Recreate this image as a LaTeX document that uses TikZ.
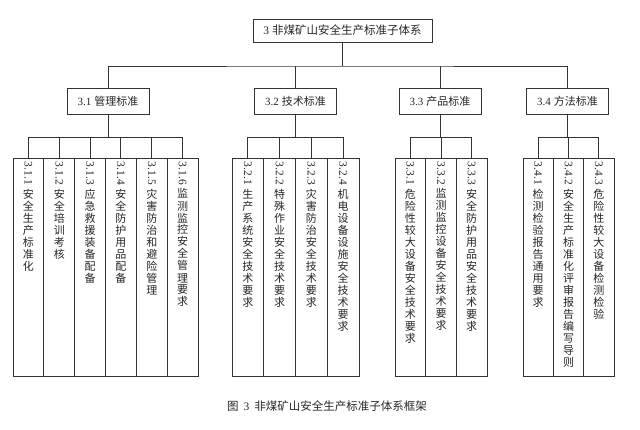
\documentclass[tikz,border=0pt]{standalone}
\usepackage{fontspec}
\setmainfont{Liberation Serif}
\newfontfamily\cjk{Noto Sans CJK SC}
\usepackage{graphicx}
\makeatletter
\def\vt@loop#1{\ifx#1\relax\expandafter\@gobble\else\expandafter\@firstofone\fi{\\#1\vt@loop}}
\newcommand\vt[2]{\rotatebox{-90}{\rmfamily\fontsize{11.5}{12}\selectfont #1\hspace{3pt}}\vt@loop#2\relax}
\makeatother
\begin{document}
\begin{tikzpicture}[x=1pt,y=-1pt,
  ln/.style={draw=black!80,line width=0.85pt},
  topbox/.style={ln,rectangle,inner sep=0pt,minimum width=179,minimum height=23,text=black!85,font=\cjk\fontsize{11.5}{13}\selectfont},
  midbox/.style={ln,rectangle,inner sep=0pt,minimum width=82,minimum height=26,text=black!85,font=\cjk\fontsize{11}{13}\selectfont},
  cbox/.style={ln,rectangle,inner sep=0pt,minimum height=218},
  ctext/.style={anchor=north,inner sep=0pt,align=center,yshift=-4pt,text=black!85,font=\cjk\fontsize{11}{12}\selectfont},
  captxt/.style={inner sep=0pt,text=black!85,font=\cjk\fontsize{11.5}{13}\selectfont}]
\useasboundingbox (0,0) rectangle (640,429);
% top
\node[topbox] (top) at (342.5,30.5) {{\rmfamily 3}\hspace{3pt}非煤矿山安全生产标准子体系};
% level 2
\node[midbox] (m1) at (108,101) {{\rmfamily 3.1}\hspace{3pt}管理标准};
\node[midbox] (m2) at (295.5,101) {{\rmfamily 3.2}\hspace{3pt}技术标准};
\node[midbox] (m3) at (440,101) {{\rmfamily 3.3}\hspace{3pt}产品标准};
\node[midbox] (m4) at (567.5,101) {{\rmfamily 3.4}\hspace{3pt}方法标准};
\coordinate (bus0) at (342.5,66);
\draw[ln] (top.south) -- (bus0);
\draw[ln] (m1.north) |- (bus0) -| (m4.north);
\draw[ln] (m2.north) -- (m2.north |- bus0);
\draw[ln] (m3.north) -- (m3.north |- bus0);
% children 3.1
\node[cbox,minimum width=30.83] (c11) at (28.4,267) {};
\node[cbox,minimum width=30.83] (c12) at (59.25,267) {};
\node[cbox,minimum width=30.83] (c13) at (90.1,267) {};
\node[cbox,minimum width=30.83] (c14) at (120.9,267) {};
\node[cbox,minimum width=30.83] (c15) at (151.75,267) {};
\node[cbox,minimum width=30.83] (c16) at (182.6,267) {};
\node[ctext] (t11) at (c11.north) {\vt{3.1.1}{安全生产标准化}};
\node[ctext] (t12) at (c12.north) {\vt{3.1.2}{安全培训考核}};
\node[ctext] (t13) at (c13.north) {\vt{3.1.3}{应急救援装备配备}};
\node[ctext] (t14) at (c14.north) {\vt{3.1.4}{安全防护用品配备}};
\node[ctext] (t15) at (c15.north) {\vt{3.1.5}{灾害防治和避险管理}};
\node[ctext] (t16) at (c16.north) {\vt{3.1.6}{监测监控安全管理要求}};
% children 3.2
\node[cbox,minimum width=31.75] (c21) at (247.9,267) {};
\node[cbox,minimum width=31.75] (c22) at (279.6,267) {};
\node[cbox,minimum width=31.75] (c23) at (311.4,267) {};
\node[cbox,minimum width=31.75] (c24) at (343.1,267) {};
\node[ctext] (t21) at (c21.north) {\vt{3.2.1}{生产系统安全技术要求}};
\node[ctext] (t22) at (c22.north) {\vt{3.2.2}{特殊作业安全技术要求}};
\node[ctext] (t23) at (c23.north) {\vt{3.2.3}{灾害防治安全技术要求}};
\node[ctext] (t24) at (c24.north) {\vt{3.2.4}{机电设备设施安全技术要求}};
% children 3.3
\node[cbox,minimum width=30.67] (c31) at (410.3,267) {};
\node[cbox,minimum width=30.67] (c32) at (441,267) {};
\node[cbox,minimum width=30.67] (c33) at (471.7,267) {};
\node[ctext] (t31) at (c31.north) {\vt{3.3.1}{危险性较大设备安全技术要求}};
\node[ctext] (t32) at (c32.north) {\vt{3.3.2}{监测监控设备安全技术要求}};
\node[ctext] (t33) at (c33.north) {\vt{3.3.3}{安全防护用品安全技术要求}};
% children 3.4
\node[cbox,minimum width=30.33] (c41) at (538.2,267) {};
\node[cbox,minimum width=30.33] (c42) at (568.5,267) {};
\node[cbox,minimum width=30.33] (c43) at (598.8,267) {};
\node[ctext] (t41) at (c41.north) {\vt{3.4.1}{检测检验报告通用要求}};
\node[ctext] (t42) at (c42.north) {\vt{3.4.2}{安全生产标准化评审报告编写导则}};
\node[ctext] (t43) at (c43.north) {\vt{3.4.3}{危险性较大设备检测检验}};
% buses
\coordinate (b1) at (108,137);
\coordinate (b2) at (295.5,137);
\coordinate (b3) at (440,137);
\coordinate (b4) at (567.5,137);
\draw[ln] (m1.south) -- (b1);
\draw[ln] (m2.south) -- (b2);
\draw[ln] (m3.south) -- (b3);
\draw[ln] (m4.south) -- (b4);
\draw[ln] (c11.north) -- (c11.north |- b1) -- (c16.north |- b1) -- (c16.north);
\foreach \n in {c12,c13,c14,c15} \draw[ln] (\n.north) -- (\n.north |- b1);
\draw[ln] (c21.north) -- (c21.north |- b2) -- (c24.north |- b2) -- (c24.north);
\foreach \n in {c22,c23} \draw[ln] (\n.north) -- (\n.north |- b2);
\draw[ln] (c31.north) -- (c31.north |- b3) -- (c33.north |- b3) -- (c33.north);
\draw[ln] (c32.north) -- (c32.north |- b3);
\draw[ln] (c41.north) -- (c41.north |- b4) -- (c43.north |- b4) -- (c43.north);
\draw[ln] (c42.north) -- (c42.north |- b4);
% caption
\node[captxt] (cap) at (327,406) {图\hspace{5pt}{\rmfamily 3}\hspace{5pt}非煤矿山安全生产标准子体系框架};
\end{tikzpicture}
\end{document}
